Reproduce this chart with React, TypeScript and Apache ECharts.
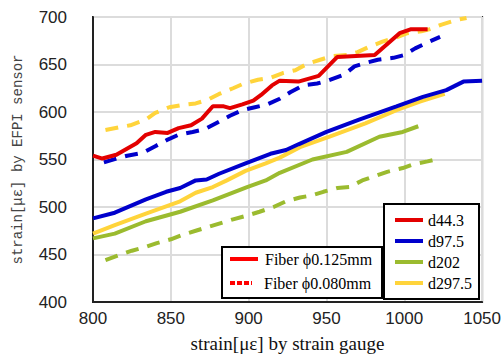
import React, { useEffect, useRef } from "react";
import * as echarts from "echarts";

// d44.3, fiber φ0.125mm (solid)
const red125: number[][] = [
  [800, 554], [806, 551], [815, 555], [828, 567], [834, 576], [840, 579], [848, 578], [855, 583],
  [863, 586], [870, 593], [877, 606], [884, 606], [888, 604], [896, 608], [903, 612], [908, 618],
  [915, 628], [920, 633], [932, 632], [945, 638], [957, 658], [981, 660], [997, 683], [1004, 687], [1015, 687],
];
// d97.5, fiber φ0.125mm
const blue125: number[][] = [
  [800, 488], [814, 494], [834, 508], [847, 516], [856, 520], [866, 528], [873, 529], [881, 535],
  [898, 546], [914, 556], [924, 560], [932, 566], [950, 579], [971, 592], [995, 606], [1012, 616],
  [1027, 623], [1038, 632], [1050, 633],
];
// d202, fiber φ0.125mm
const green125: number[][] = [
  [800, 467], [814, 472], [834, 485], [856, 495], [877, 507], [899, 521], [911, 528], [920, 536],
  [941, 550], [963, 558], [984, 574], [999, 579], [1009, 585],
];
// d297.5, fiber φ0.125mm
const yellow125: number[][] = [
  [800, 472], [814, 481], [834, 493], [856, 506], [866, 515], [877, 521], [886, 528], [898, 538],
  [911, 546], [920, 552], [933, 563], [952, 574], [975, 588], [995, 602], [1010, 611], [1026, 619],
];
// d97.5, fiber φ0.080mm (dashed)
const blue080: number[][] = [
  [807, 547], [815, 551], [822, 554], [832, 557], [840, 564], [848, 571], [855, 576], [864, 579],
  [872, 582], [880, 589], [888, 596], [896, 602], [904, 605], [912, 608], [920, 614], [927, 621],
  [935, 628], [944, 630], [951, 633], [961, 639], [968, 648], [976, 652], [983, 655], [993, 657],
  [1000, 660], [1007, 667], [1016, 674], [1023, 679],
];
// d202, fiber φ0.080mm
const green080: number[][] = [
  [808, 444], [818, 450], [825, 454], [834, 458], [841, 462], [850, 466], [858, 471], [866, 475],
  [874, 479], [884, 484], [890, 487], [899, 491], [907, 495], [916, 500], [924, 506], [933, 510],
  [940, 512], [948, 516], [957, 520], [965, 521], [973, 528], [982, 533], [989, 537], [999, 541],
  [1006, 545], [1015, 548], [1020, 550],
];
// d297.5, fiber φ0.080mm
const yellow080: number[][] = [
  [808, 581], [817, 584], [824, 586], [834, 592], [840, 599], [849, 605], [856, 607], [866, 609],
  [874, 613], [881, 619], [890, 625], [897, 630], [906, 634], [914, 636], [922, 641], [930, 644],
  [938, 651], [946, 655], [954, 659], [963, 660], [970, 663], [978, 669], [986, 674], [994, 678],
  [1002, 683], [1011, 685], [1016, 687], [1024, 692], [1034, 697], [1040, 699],
];

const diameterLabels = ["d44.3", "d97.5", "d202", "d297.5"];
const fiberLabels = ["Fiber ϕ0.125mm", "Fiber ϕ0.080mm"];

const RED = "#e30000";
const BLUE = "#0000cc";
const GREEN = "#9bbb2f";
const YELLOW = "#ffd43b";

export default function App() {
  const ref = useRef<HTMLDivElement>(null);
  useEffect(() => {
    if (!ref.current) return;
    const chart = echarts.init(ref.current, null, { renderer: "svg" });
    const serif = "'Liberation Serif', 'Times New Roman', serif";
    const solid = (name: string, data: number[][], color: string) => ({
      name, type: "line", data, showSymbol: false, symbol: "none",
      lineStyle: { color, width: 4 }, itemStyle: { color }, z: 3,
    });
    const dashed = (name: string, data: number[][], color: string) => ({
      name, type: "line", data, showSymbol: false, symbol: "none",
      lineStyle: { color, width: 4, type: [13, 9] }, itemStyle: { color }, z: 2,
    });
    const legendColors = [RED, BLUE, GREEN, YELLOW];
    const legendYs = [220, 241, 262, 283];
    const graphics: any[] = [
      { type: "rect", shape: { x: 222, y: 247, width: 160, height: 51 }, style: { fill: "#fff", stroke: "#000", lineWidth: 2 }, z: 10 },
      { type: "line", shape: { x1: 230, y1: 259, x2: 258, y2: 259 }, style: { stroke: "#ff0000", lineWidth: 4 }, z: 11 },
      { type: "line", shape: { x1: 230, y1: 283, x2: 252, y2: 283 }, style: { stroke: "#ff0000", lineWidth: 4, lineDash: [5, 2] }, z: 11 },
      { type: "text", x: 265, y: 259, style: { text: fiberLabels[0], font: `16px ${serif}`, fill: "#000", verticalAlign: "middle" }, z: 11 },
      { type: "text", x: 264, y: 283, style: { text: fiberLabels[1], font: `16px ${serif}`, fill: "#000", verticalAlign: "middle" }, z: 11 },
      { type: "rect", shape: { x: 384, y: 204, width: 95, height: 95 }, style: { fill: "#fff", stroke: "#000", lineWidth: 2 }, z: 10 },
    ];
    diameterLabels.forEach((lab, i) => {
      graphics.push({ type: "line", shape: { x1: 395, y1: legendYs[i], x2: 423, y2: legendYs[i] }, style: { stroke: legendColors[i], lineWidth: 4 }, z: 11 });
      graphics.push({ type: "text", x: 428, y: legendYs[i], style: { text: lab, font: `16px ${serif}`, fill: "#000", verticalAlign: "middle" }, z: 11 });
    });
    const plain = (v: number) => String(v);
    chart.setOption({
      animation: false,
      backgroundColor: "#fff",
      grid: { left: 93, top: 17, right: 21, bottom: 56, show: true, borderColor: "#222", borderWidth: 2 },
      xAxis: {
        type: "value", min: 800, max: 1050, interval: 50,
        name: "strain[με] by strain gauge", nameLocation: "middle", nameGap: 32,
        nameTextStyle: { fontFamily: serif, fontSize: 19, color: "#111" },
        axisLine: { show: true, lineStyle: { color: "#222", width: 2 } },
        axisTick: { show: false },
        axisLabel: { margin: 8, formatter: plain, fontFamily: "'Liberation Sans', Arial, sans-serif", fontSize: 17, color: "#222" },
        splitLine: { show: true, lineStyle: { color: "#dcdcdc", width: 2 } },
      },
      yAxis: {
        type: "value", min: 400, max: 700, interval: 50,
        name: "strain[με] by EFPI sensor", nameLocation: "middle", nameGap: 68, nameRotate: 90,
        nameTextStyle: { fontFamily: "'Liberation Mono', monospace", fontSize: 14, color: "#444" },
        axisLine: { show: true, lineStyle: { color: "#222", width: 2 } },
        axisTick: { show: false },
        axisLabel: { margin: 26, formatter: plain, fontFamily: "'Liberation Sans', Arial, sans-serif", fontSize: 17, color: "#222" },
        splitLine: { show: true, lineStyle: { color: "#dcdcdc", width: 2 } },
      },
      series: [
        dashed("d297.5 ϕ0.080mm", yellow080, YELLOW),
        dashed("d97.5 ϕ0.080mm", blue080, BLUE),
        dashed("d202 ϕ0.080mm", green080, GREEN),
        solid("d297.5 ϕ0.125mm", yellow125, YELLOW),
        solid("d202 ϕ0.125mm", green125, GREEN),
        solid("d97.5 ϕ0.125mm", blue125, BLUE),
        solid("d44.3 ϕ0.125mm", red125, RED),
      ],
      graphic: graphics,
    });
    return () => chart.dispose();
  }, []);
  return <div ref={ref} style={{ width: 504, height: 358, position: "absolute", left: 0, top: 0 }} />;
}
